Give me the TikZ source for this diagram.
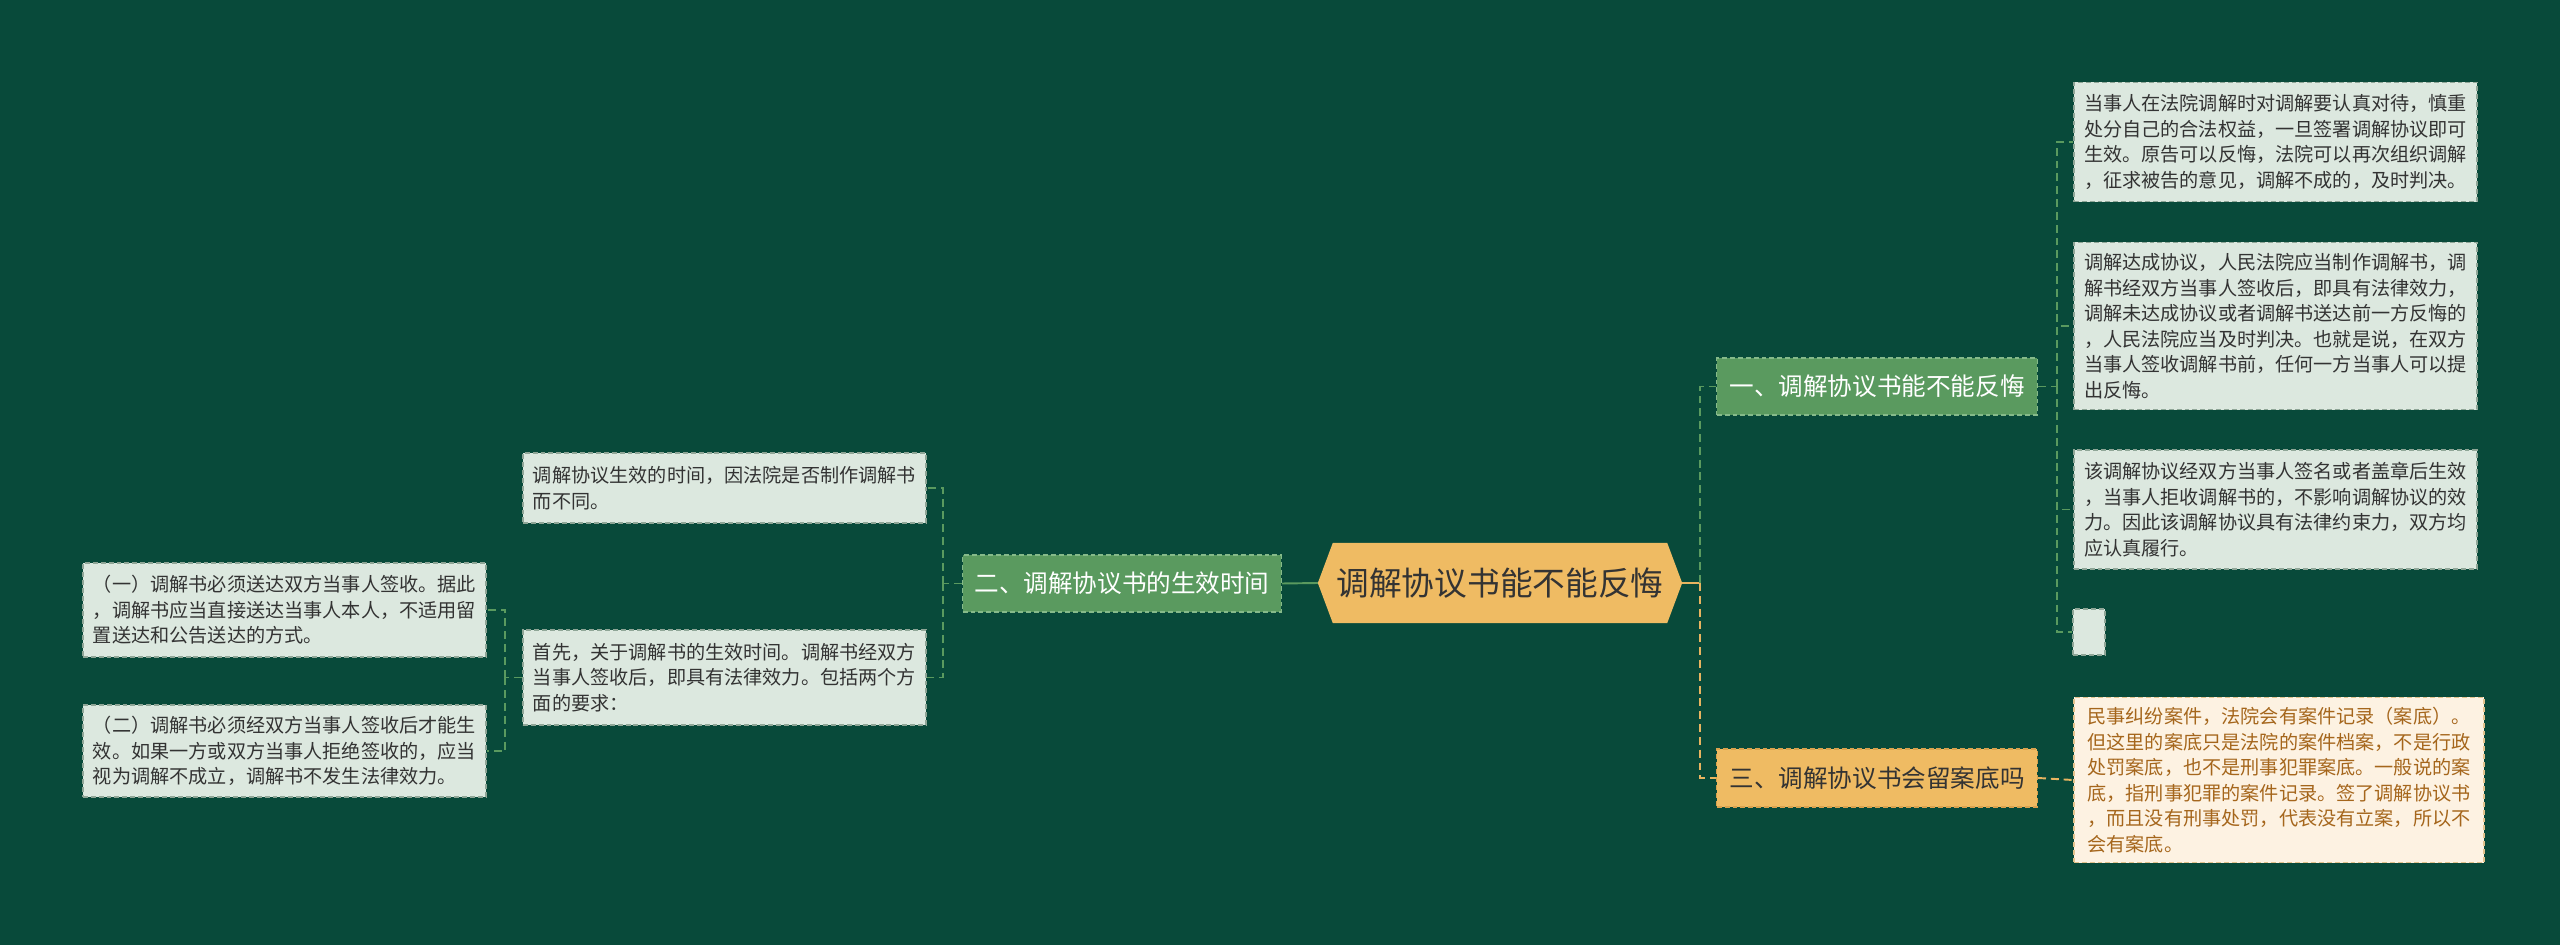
\documentclass[tikz,border=0pt]{standalone}
\usepackage{fontspec}
\newfontfamily\cjk{Noto Sans CJK SC}
\usetikzlibrary{calc,backgrounds}
\definecolor{bgc}{HTML}{084A3A}
\definecolor{leaffill}{HTML}{DCE8DF}
\definecolor{leafdraw}{HTML}{8FA697}
\definecolor{leaftext}{HTML}{333333}
\definecolor{gfill}{HTML}{5A9A5F}
\definecolor{gdraw}{HTML}{86BA8A}
\definecolor{ofill}{HTML}{EFBB63}
\definecolor{odraw}{HTML}{D9A24E}
\definecolor{cfill}{HTML}{FDF2E2}
\definecolor{cdraw}{HTML}{E2C28C}
\definecolor{ctext}{HTML}{A5661C}
\definecolor{gline}{HTML}{5A9A5F}
\definecolor{oline}{HTML}{E8B460}
\begin{document}
\begin{tikzpicture}[x=0.02cm,y=-0.02cm,
  leafbox/.style={draw=leafdraw, fill=leaffill, dash pattern=on 2.8pt off 1.7pt, line width=0.85pt,
    font=\cjk\fontsize{10.9}{14.5}\selectfont, text=leaftext, align=left, inner sep=0pt,
    minimum width=229.6pt, anchor=center},
  creambox/.style={leafbox, draw=cdraw, fill=cfill, text=ctext},
  gbranch/.style={draw=gdraw, fill=gfill, dash pattern=on 2.8pt off 1.7pt, line width=0.85pt,
    font=\cjk\fontsize{14}{17}\selectfont, text=white, inner sep=0pt, minimum height=32.3pt, minimum width=182.5pt},
  obranch/.style={gbranch, draw=odraw, fill=ofill, text=leaftext},
  gconn/.style={draw=gline, line width=1.1pt, dash pattern=on 4.5pt off 2.8pt},
  oconn/.style={draw=oline, line width=1.1pt, dash pattern=on 4.5pt off 2.8pt},
]
\begin{pgfonlayer}{background}
\fill[bgc] (0,0) rectangle (2560,945);
\end{pgfonlayer}
\useasboundingbox (0,0) rectangle (2560,945);

% central
\node[font=\cjk\fontsize{18.6}{22}\selectfont, text=leaftext, inner sep=0pt,
  minimum width=189.9pt, minimum height=45.4pt] (c) at (1500,583) {调解协议书能不能反悔};
\coordinate (cl) at ($(c.west)+(-15,0)$);
\coordinate (cr) at ($(c.east)+(15,0)$);
\begin{pgfonlayer}{background}
\fill[ofill] (cl) -- (c.north west) -- (c.north east) -- (cr)
  -- (c.south east) -- (c.south west) -- cycle;
\end{pgfonlayer}

% branches
\node[gbranch] (b1) at (1877,386.5) {一、调解协议书能不能反悔};
\node[obranch, minimum height=32.9pt] (b3) at (1877,778) {三、调解协议书会留案底吗};
\node[gbranch, minimum width=181.4pt] (b2) at (1122,583.5) {二、调解协议书的生效时间};

% right leaves
\node[leafbox, minimum height=68pt] (r1) at (2275.5,142) {当事人在法院调解时对调解要认真对待，慎重\\处分自己的合法权益，一旦签署调解协议即可\\生效。原告可以反悔，法院可以再次组织调解\\，征求被告的意见，调解不成的，及时判决。};
\node[leafbox, minimum height=95.2pt] (r2) at (2275.5,326) {调解达成协议，人民法院应当制作调解书，调\\解书经双方当事人签收后，即具有法律效力，\\调解未达成协议或者调解书送达前一方反悔的\\，人民法院应当及时判决。也就是说，在双方\\当事人签收调解书前，任何一方当事人可以提\\出反悔。};
\node[leafbox, minimum height=67.5pt] (r3) at (2275.5,509.5) {该调解协议经双方当事人签名或者盖章后生效\\，当事人拒收调解书的，不影响调解协议的效\\力。因此该调解协议具有法律约束力，双方均\\应认真履行。};
\node[leafbox, minimum width=18.1pt, minimum height=26.1pt] (r4) at (2089,632) {};
\node[creambox, minimum width=233.6pt, minimum height=94.1pt] (r5) at (2279,780) {民事纠纷案件，法院会有案件记录（案底）。\\但这里的案底只是法院的案件档案，不是行政\\处罚案底，也不是刑事犯罪案底。一般说的案\\底，指刑事犯罪的案件记录。签了调解协议书\\，而且没有刑事处罚，代表没有立案，所以不\\会有案底。};

% left leaves
\node[leafbox, minimum height=39.7pt] (la) at (724.5,488) {调解协议生效的时间，因法院是否制作调解书\\而不同。};
\node[leafbox, minimum height=53.9pt] (lb) at (724.5,677.5) {首先，关于调解书的生效时间。调解书经双方\\当事人签收后，即具有法律效力。包括两个方\\面的要求：};
\node[leafbox, minimum height=53.3pt] (lc) at (284.5,610) {（一）调解书必须送达双方当事人签收。据此\\，调解书应当直接送达当事人本人，不适用留\\置送达和公告送达的方式。};
\node[leafbox, minimum height=52.2pt] (ld) at (284.5,751) {（二）调解书必须经双方当事人签收后才能生\\效。如果一方或双方当事人拒绝签收的，应当\\视为调解不成立，调解书不发生法律效力。};

% connectors
\begin{pgfonlayer}{background}
\draw[draw=oline, line width=1.1pt] (cr) -- ++(18,0) coordinate (cj);
\draw[gconn] (cj) |- (b1.west);
\draw[oconn] (cj) |- (b3.west);
\draw[draw=gline, line width=1.1pt] (cl) -- (b2.east);
\draw[gconn] (b2.west) -- ++(-19,0) coordinate (j2);
\draw[gconn] (j2) |- (la.east);
\draw[gconn] (j2) |- (lb.east);
\draw[gconn] (lb.west) -- ++(-17,0) coordinate (j3);
\draw[gconn] (j3) |- (lc.east);
\draw[gconn] (j3) |- (ld.east);
\draw[gconn] (b1.east) -- ++(19,0) coordinate (j1);
\draw[gconn] (j1) |- (r1.west);
\draw[gconn] (j1) |- (r2.west);
\draw[gconn] (j1) |- (r3.west);
\draw[gconn] (j1) |- (r4.west);
\draw[oconn] (b3.east) -- (r5.west);
\end{pgfonlayer}
\end{tikzpicture}
\end{document}
